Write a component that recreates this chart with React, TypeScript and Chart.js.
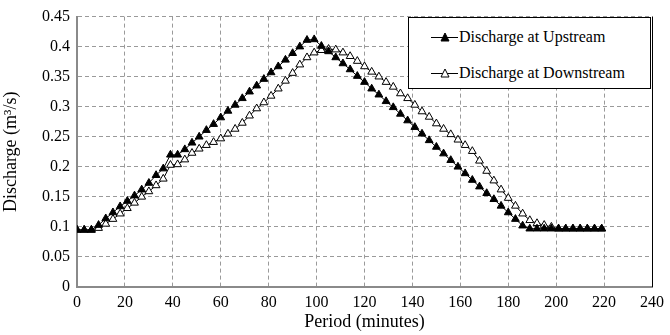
import React, { useEffect, useRef } from "react";
import { Chart, registerables } from "chart.js";

Chart.register(...registerables);

const periodMinutes = [
  0, 3, 6, 9, 12, 15, 18, 21, 24, 27, 30, 33, 36, 39, 42, 45, 48, 51, 54, 57,
  60, 63, 66, 69, 72, 75, 78, 81, 84, 87, 90, 93, 96, 99, 102, 105, 108, 111,
  114, 117, 120, 123, 126, 129, 132, 135, 138, 141, 144, 147, 150, 153, 156,
  159, 162, 165, 168, 171, 174, 177, 180, 183, 186, 189, 192, 195, 198, 201,
  204, 207, 210, 213, 216, 219,
];

const upstream = [
  0.095, 0.095, 0.095, 0.103, 0.114, 0.124, 0.134, 0.143, 0.152, 0.162, 0.173,
  0.186, 0.197, 0.22, 0.22, 0.229, 0.24, 0.25, 0.261, 0.271, 0.282, 0.293,
  0.303, 0.314, 0.325, 0.335, 0.346, 0.357, 0.367, 0.378, 0.389, 0.4, 0.411,
  0.412, 0.401, 0.392, 0.382, 0.372, 0.362, 0.351, 0.341, 0.33, 0.32, 0.309,
  0.299, 0.288, 0.277, 0.266, 0.255, 0.244, 0.233, 0.222, 0.211, 0.2, 0.189,
  0.178, 0.167, 0.156, 0.146, 0.135, 0.124, 0.113, 0.102, 0.097, 0.097, 0.097,
  0.097, 0.097, 0.097, 0.097, 0.097, 0.097, 0.097, 0.097,
];

const downstream = [
  0.095, 0.095, 0.095, 0.098, 0.105, 0.113, 0.122, 0.131, 0.14, 0.15, 0.159,
  0.169, 0.18, 0.203, 0.204, 0.212, 0.223, 0.23, 0.236, 0.241, 0.247, 0.255,
  0.263, 0.273, 0.285, 0.297, 0.307, 0.318, 0.33, 0.343, 0.356, 0.37, 0.382,
  0.39, 0.394, 0.396, 0.395, 0.39, 0.384, 0.376, 0.367, 0.358, 0.35, 0.341,
  0.333, 0.322, 0.314, 0.303, 0.292, 0.283, 0.272, 0.263, 0.254, 0.245, 0.236,
  0.226, 0.21, 0.193, 0.177, 0.162, 0.148, 0.135, 0.122, 0.111, 0.106, 0.103,
  0.1, 0.097, 0.097, 0.097, 0.097, 0.097, 0.097, 0.097,
];

const seriesNames = ["Discharge at Upstream", "Discharge at Downstream"];
const xTitle = "Period (minutes)";
const yTitle = "Discharge (m\u00B3/s)";

const FONT = "'Liberation Serif', 'Times New Roman', serif";

const rightBorder = {
  id: "rightBorder",
  afterDraw(chart: any) {
    const { ctx, chartArea } = chart;
    ctx.save();
    ctx.strokeStyle = "#000";
    ctx.lineWidth = 1;
    ctx.beginPath();
    ctx.moveTo(Math.round(chartArea.right) + 0.5, chartArea.top);
    ctx.lineTo(Math.round(chartArea.right) + 0.5, chartArea.bottom);
    ctx.stroke();
    ctx.restore();
  },
};

function LegendMarker({ filled }: { filled: boolean }) {
  return (
    <svg width={29} height={12} style={{ display: "block" }}>
      <line x1={1} y1={6.5} x2={28} y2={6.5} stroke="#000" strokeWidth={1} />
      <polygon
        points="15,2 19,10 11,10"
        fill={filled ? "#000" : "#fff"}
        stroke="#000"
        strokeWidth={1}
      />
    </svg>
  );
}

export default function App() {
  const canvasRef = useRef<HTMLCanvasElement | null>(null);

  useEffect(() => {
    if (!canvasRef.current) return;
    const chart = new Chart(canvasRef.current, {
      type: "line",
      data: {
        datasets: [
          {
            label: seriesNames[0],
            data: periodMinutes.map((t, i) => ({ x: t, y: upstream[i] })),
            borderColor: "#000",
            backgroundColor: "#000",
            borderWidth: 1,
            pointStyle: "triangle",
            pointRadius: 4.5,
            pointBorderColor: "#000",
            pointBackgroundColor: "#000",
            pointBorderWidth: 1,
            tension: 0,
          },
          {
            label: seriesNames[1],
            data: periodMinutes.map((t, i) => ({ x: t, y: downstream[i] })),
            borderColor: "#000",
            backgroundColor: "#fff",
            borderWidth: 1,
            pointStyle: "triangle",
            pointRadius: 4.5,
            pointBorderColor: "#000",
            pointBackgroundColor: "#fff",
            pointBorderWidth: 1,
            tension: 0,
          },
        ],
      },
      options: {
        animation: false,
        responsive: false,
        maintainAspectRatio: false,
        layout: { padding: { top: 13, right: 17, left: 0, bottom: 0 } },
        plugins: {
          legend: { display: false },
          tooltip: { enabled: false },
        },
        scales: {
          x: {
            type: "linear",
            min: 0,
            max: 240,
            ticks: {
              stepSize: 20,
              color: "#000",
              font: { family: FONT, size: 16 },
              padding: 6,
              maxRotation: 0,
            },
            grid: { color: "#9a9a9a", lineWidth: 1, drawTicks: false },
            border: { display: true, color: "#8a8a8a", width: 2, dash: [4, 3] },
            title: {
              display: true,
              text: xTitle,
              color: "#000",
              font: { family: FONT, size: 18 },
              padding: { top: 0, bottom: 2 },
            },
            afterFit: (scale: any) => {
              scale.height = 48;
            },
          },
          y: {
            type: "linear",
            min: 0,
            max: 0.45,
            ticks: {
              stepSize: 0.05,
              color: "#000",
              font: { family: FONT, size: 16 },
              padding: 7,
              callback: (v: any) => String(Number(Number(v).toFixed(2))),
            },
            grid: { color: "#9a9a9a", lineWidth: 1, drawTicks: false },
            border: { display: true, color: "#8a8a8a", width: 2, dash: [4, 3] },
            title: {
              display: true,
              text: yTitle,
              color: "#000",
              font: { family: FONT, size: 18 },
              padding: { top: 0, bottom: 0 },
            },
            afterFit: (scale: any) => {
              scale.width = 77;
            },
          },
        },
      },
      plugins: [rightBorder],
    });
    return () => chart.destroy();
  }, []);

  return (
    <div
      style={{
        position: "absolute",
        left: 0,
        top: 0,
        width: 670,
        height: 335,
        background: "#fff",
      }}
    >
      <canvas ref={canvasRef} width={670} height={335} />
      <div
        style={{
          position: "absolute",
          left: 408,
          top: 17,
          width: 241,
          height: 70,
          border: "1px solid #000",
          background: "#fff",
          fontFamily: FONT,
          fontSize: 16,
          color: "#000",
        }}
      >
        {seriesNames.map((name, i) => (
          <div
            key={name}
            style={{
              position: "absolute",
              left: 21,
              top: i === 0 ? 9 : 45,
              height: 20,
              display: "flex",
              alignItems: "center",
              whiteSpace: "nowrap",
            }}
          >
            <LegendMarker filled={i === 0} />
            <span>{name}</span>
          </div>
        ))}
      </div>
    </div>
  );
}
